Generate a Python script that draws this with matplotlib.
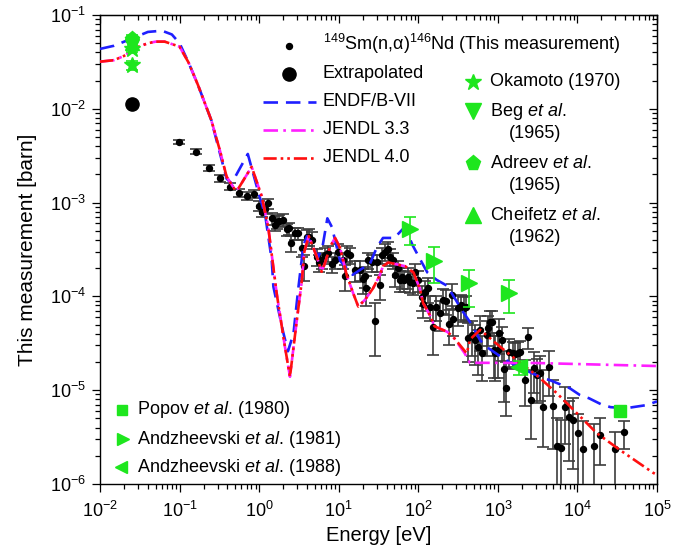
import numpy as np
import matplotlib
matplotlib.use("Agg")
import matplotlib.pyplot as plt
from matplotlib.ticker import LogLocator, NullFormatter

plt.rcParams['font.family'] = ['Liberation Sans', 'DejaVu Sans']
plt.rcParams['mathtext.fontset'] = 'custom'
plt.rcParams['mathtext.rm'] = 'Liberation Sans'
plt.rcParams['mathtext.it'] = 'Liberation Sans:italic'
plt.rcParams['mathtext.bf'] = 'Liberation Sans:bold'
plt.rcParams['axes.unicode_minus'] = False

# ---------------- data ----------------
# This measurement: energy [eV], cross section [barn], relative errors (low, high)
meas_E = [0.099, 0.16, 0.237, 0.325, 0.434, 0.558, 0.70, 0.87, 1.00, 1.10, 1.18, 1.31,
          1.45, 1.58, 1.70, 1.79, 1.98, 2.22, 2.37, 2.51, 2.82, 3.10, 3.43, 3.69, 3.96,
          4.27, 4.57, 5.28, 5.7, 6.1, 6.7, 7.4, 8.2, 9.0, 9.9, 11.4, 12.0, 12.6, 13.9,
          16.0, 18.5, 20.0, 21.4, 22.0, 23.5, 26.0, 28.6, 30.5, 33.0, 34.7, 38.2, 42.0,
          44.0, 48.6, 51.0, 56.0, 59.0, 62.0, 67.0, 75.0, 79.0, 86.6, 91.0, 100.0, 110.0,
          115.6, 121.0, 134.0, 140.0, 155.0, 165.0, 187.0, 206.0, 225.0, 245.0, 262.0,
          275.0, 318.0, 345.0, 375.0, 395.0, 425.0, 470.0, 516.0, 568.0, 597.0, 625.0,
          724.0, 760.0, 800.0, 836.0, 895.0, 920.0, 1014.0, 1042.0, 1115.0, 1193.0,
          1265.0, 1393.0, 1535.0, 1640.0, 1807.0, 1897.0, 2193.0, 2366.0, 2585.0, 2845.0,
          3075.0, 3390.0, 3725.0, 4435.0, 4980.0, 5600.0, 6230.0, 6990.0, 7910.0, 8880.0,
          10260.0, 11850.0, 16150.0, 19200.0, 29900.0, 38900.0]
meas_sigma = [4.43e-3, 3.49e-3, 2.36e-3, 1.82e-3, 1.48e-3, 1.28e-3, 1.17e-3, 1.24e-3, 9.3e-4,
              7.9e-4, 8.5e-4, 9.8e-4, 6.8e-4, 5.8e-4, 6.2e-4, 6.4e-4, 6.6e-4, 5.2e-4, 5.3e-4,
              3.7e-4, 4.7e-4, 4.7e-4, 3.3e-4, 2.1e-4, 4.3e-4, 4.35e-4, 4.0e-4, 2.65e-4,
              2.3e-4, 2.44e-4, 2.76e-4, 2.88e-4, 2.2e-4, 2.44e-4, 3.0e-4, 2.44e-4, 1.65e-4,
              2.88e-4, 2.76e-4, 1.9e-4, 1.93e-4, 1.52e-4, 1.65e-4, 1.22e-4, 2.44e-4, 2.3e-4,
              5.5e-5, 2.3e-4, 1.31e-4, 2.76e-4, 3.0e-4, 3.2e-4, 2.65e-4, 2.44e-4, 1.69e-4,
              2.0e-4, 1.5e-4, 1.6e-4, 1.5e-4, 1.6e-4, 1.44e-4, 1.38e-4, 1.83e-4, 1.5e-4,
              9.9e-5, 8.4e-5, 1.12e-4, 1.22e-4, 7.8e-5, 4.75e-5, 7.8e-5, 6.6e-5, 9.2e-5,
              9.0e-5, 5.1e-5, 1.04e-4, 5.8e-5, 7.5e-5, 8.0e-5, 7.6e-5, 7.8e-5, 3.6e-5,
              3.9e-5, 3.4e-5, 2.9e-5, 4.4e-5, 2.5e-5, 3.9e-5, 4.6e-5, 5.4e-5, 5.4e-5,
              2.7e-5, 2.5e-5, 2.7e-5, 4.1e-5, 3.4e-5, 1.67e-5, 1.06e-5, 2.58e-5, 2.5e-5,
              2.45e-5, 2.5e-5, 2.55e-5, 1.29e-5, 3.7e-5, 7.9e-6, 1.71e-5, 1.45e-5, 1.54e-5,
              6.6e-6, 1.75e-5, 6.8e-6, 2.54e-6, 2.4e-6, 6.7e-6, 5.2e-6, 4.8e-6, 3.47e-6,
              2.36e-6, 2.54e-6, 3.33e-6, 2.36e-6, 3.56e-6]
meas_rel_lo = [0.06, 0.06, 0.07, 0.08, 0.08, 0.10, 0.10, 0.10, 0.12, 0.12, 0.12, 0.12,
               0.15, 0.15, 0.15, 0.15, 0.15, 0.15, 0.15, 0.2, 0.15, 0.15, 0.2, 0.3, 0.2,
               0.2, 0.2, 0.2, 0.2, 0.2, 0.2, 0.2, 0.2, 0.2, 0.2, 0.2, 0.3, 0.2, 0.2,
               0.25, 0.25, 0.3, 0.25, 0.35, 0.2, 0.2, 0.58, 0.2, 0.3, 0.2, 0.2, 0.2,
               0.2, 0.2, 0.25, 0.2, 0.25, 0.25, 0.25, 0.25, 0.25, 0.25, 0.2, 0.25, 0.3,
               0.3, 0.3, 0.3, 0.3, 0.5, 0.3, 0.35, 0.3, 0.3, 0.4, 0.3, 0.35, 0.35, 0.3,
               0.3, 0.3, 0.45, 0.4, 0.45, 0.5, 0.4, 0.5, 0.4, 0.35, 0.3, 0.3, 0.5, 0.5,
               0.5, 0.4, 0.4, 0.55, 0.5, 0.35, 0.3, 0.3, 0.3, 0.3, 0.47, 0.25, 0.62, 0.45,
               0.5, 0.5, 0.62, 0.5, 0.65, 1.0, 1.0, 0.6, 0.66, 0.7, 0.8, 1.0, 1.0, 0.52,
               1.0, 0.33]
meas_rel_hi = [0.06, 0.06, 0.07, 0.08, 0.08, 0.10, 0.10, 0.10, 0.12, 0.12, 0.12, 0.12,
               0.15, 0.15, 0.15, 0.15, 0.15, 0.15, 0.15, 0.2, 0.15, 0.15, 0.2, 0.3, 0.2,
               0.2, 0.2, 0.2, 0.2, 0.2, 0.2, 0.2, 0.2, 0.2, 0.2, 0.2, 0.3, 0.2, 0.2,
               0.25, 0.25, 0.3, 0.25, 0.35, 0.2, 0.2, 0.56, 0.2, 0.3, 0.2, 0.2, 0.2,
               0.2, 0.2, 0.25, 0.2, 0.25, 0.25, 0.25, 0.25, 0.25, 0.25, 0.2, 0.25, 0.3,
               0.3, 0.3, 0.3, 0.3, 0.5, 0.3, 0.35, 0.3, 0.3, 0.4, 0.3, 0.35, 0.35, 0.3,
               0.3, 0.3, 0.45, 0.4, 0.45, 0.5, 0.4, 0.5, 0.4, 0.35, 0.3, 0.3, 0.5, 0.5,
               0.5, 0.4, 0.4, 0.55, 0.9, 0.35, 0.3, 0.3, 0.3, 0.3, 0.63, 0.25, 1.1, 0.5,
               0.5, 0.5, 1.5, 0.5, 0.9, 1.0, 1.0, 0.6, 0.46, 0.7, 0.6, 1.0, 0.7, 0.5,
               0.53, 0.33]

# Extrapolated thermal value
extrap_E = [0.0253]
extrap_sigma = [0.0112]

# Evaluated data
endf_E = [0.01, 0.015, 0.025, 0.04, 0.06, 0.08, 0.10, 0.13, 0.17, 0.25, 0.32, 0.39, 0.45,
          0.72, 1.0, 1.19, 1.44, 1.51, 2.0, 2.3, 2.7, 3.1, 3.6, 4.0, 4.8, 5.5, 6.3, 7.2,
          8.2, 10.4, 15.0, 20.0, 24.0, 30.0, 36.0, 50.0, 65.0, 75.0, 85.0, 105.0, 130.0,
          170.0, 230.0, 300.0, 350.0, 470.0, 600.0, 720.0, 1070.0, 1380.0, 2200.0, 3400.0,
          4500.0, 8000.0, 10700.0, 14000.0, 19700.0, 26000.0, 40000.0, 50000.0, 75000.0,
          100000.0]
endf_sigma = [0.0435, 0.047, 0.056, 0.066, 0.068, 0.062, 0.050, 0.031, 0.018, 7.6e-3,
              3.4e-3, 1.8e-3, 1.6e-3, 3.3e-3, 1.2e-3, 7.4e-4, 2.44e-4, 1.27e-4, 4.2e-5,
              2.6e-5, 4.0e-5, 1.2e-4, 3.5e-4, 4.4e-4, 3.3e-4, 2.6e-4, 3.5e-4, 6.8e-4, 5.5e-4,
              2.4e-4, 1.7e-4, 2.0e-4, 2.1e-4, 3.3e-4, 4.2e-4, 4.2e-4, 5.3e-4, 4.5e-4, 3.5e-4,
              2.5e-4, 1.8e-4, 1.5e-4, 1.3e-4, 9.0e-5, 7.2e-5, 5.0e-5, 3.4e-5, 2.9e-5, 2.3e-5,
              2.0e-5, 1.64e-5, 1.39e-5, 1.28e-5, 1.05e-5, 8.9e-6, 8.2e-6, 7.1e-6, 6.6e-6,
              6.4e-6, 6.6e-6, 6.95e-6, 7.6e-6]

jendl40_E = [0.01, 0.015, 0.02, 0.03, 0.04, 0.05, 0.065, 0.08, 0.10, 0.13, 0.17, 0.25, 0.32,
             0.39, 0.50, 0.55, 0.805, 1.08, 1.3, 1.66, 2.11, 2.44, 2.96, 3.43, 3.7, 4.2,
             5.3, 6.1, 6.7, 7.8, 9.0, 10.4, 12.6, 15.2, 17.6, 21.4, 27.0, 33.0, 36.0, 42.0,
             68.0, 87.0, 105.0, 115.0, 140.0, 160.0, 230.0, 275.0, 406.0, 450.0, 600.0,
             1070.0, 1720.0, 3240.0, 5500.0, 9800.0, 17400.0, 34300.0, 89000.0, 100000.0]
jendl40_sigma = [0.0318, 0.033, 0.0366, 0.0456, 0.050, 0.052, 0.052, 0.049, 0.046, 0.031,
                 0.018, 7.6e-3, 3.64e-3, 1.89e-3, 1.36e-3, 1.42e-3, 2.41e-3, 1.16e-3, 5.5e-4,
                 1.08e-4, 2.9e-5, 1.39e-5, 5.4e-5, 1.44e-4, 3.0e-4, 4.4e-4, 2.65e-4, 1.83e-4,
                 2.25e-4, 3.4e-4, 4.2e-4, 3.3e-4, 1.69e-4, 1.08e-4, 7.8e-5, 9.2e-5, 1.22e-4,
                 1.7e-4, 2.1e-4, 2.3e-4, 2.1e-4, 1.8e-4, 1.2e-4, 8.5e-5, 6.3e-5, 4.8e-5,
                 4.2e-5, 3.7e-5, 2.47e-5, 3.5e-5, 4.4e-5, 2.9e-5, 2.1e-5, 1.39e-5, 9.3e-6,
                 5.7e-6, 3.5e-6, 2.3e-6, 1.32e-6, 1.25e-6]

jendl33_E = [0.01, 0.015, 0.02, 0.03, 0.04, 0.05, 0.065, 0.08, 0.10, 0.13, 0.17, 0.25, 0.32,
             0.39, 0.50, 0.55, 0.805, 1.08, 1.3, 1.66, 2.11, 2.44, 2.96, 3.43, 3.7, 4.2,
             5.3, 6.1, 6.7, 7.8, 9.0, 10.4, 12.6, 15.2, 17.6, 21.4, 27.0, 33.0, 36.0, 42.0,
             68.0, 87.0, 105.0, 115.0, 140.0, 160.0, 230.0, 275.0, 380.0, 445.0, 3000.0,
             100000.0]
jendl33_sigma = [0.0318, 0.033, 0.0366, 0.0456, 0.050, 0.052, 0.052, 0.049, 0.046, 0.031,
                 0.018, 7.6e-3, 3.64e-3, 1.89e-3, 1.36e-3, 1.42e-3, 2.41e-3, 1.16e-3, 5.5e-4,
                 1.08e-4, 2.9e-5, 1.39e-5, 5.4e-5, 1.44e-4, 3.0e-4, 4.4e-4, 2.65e-4, 1.83e-4,
                 2.25e-4, 3.4e-4, 4.2e-4, 3.3e-4, 1.69e-4, 1.08e-4, 7.8e-5, 9.2e-5, 1.22e-4,
                 1.7e-4, 2.1e-4, 2.3e-4, 2.1e-4, 1.8e-4, 1.2e-4, 8.5e-5, 6.3e-5, 4.8e-5,
                 4.2e-5, 3.7e-5, 2.5e-5, 1.96e-5, 1.95e-5, 1.81e-5]

# Other measurements
okamoto_E = [0.0253, 0.0253]
okamoto_sigma = [0.043, 0.029]
okamoto_err = [0.003, 0.003]
beg_E = [0.0253]
beg_sigma = [0.047]
beg_err = [0.004]
adreev_E = [0.0253]
adreev_sigma = [0.056]
adreev_err = [0.005]
cheifetz_E = [0.0253]
cheifetz_sigma = [0.050]
cheifetz_err = [0.004]
popov_E = [34300.0]
popov_sigma = [6.0e-6]
andz81_E = [79.0, 158.0, 438.0, 1393.0]
andz81_sigma = [5.2e-4, 2.4e-4, 1.4e-4, 1.1e-4]
andz81_lo = [1.7e-4, 1.0e-4, 6.2e-5, 4.4e-5]
andz81_hi = [1.9e-4, 1.0e-4, 5.3e-5, 4.0e-5]
andz88_E = [1860.0]
andz88_sigma = [1.75e-5]
andz88_err = [3.0e-6]

# ---------------- figure ----------------
W, H = 683, 559
fig = plt.figure(figsize=(W / 100, H / 100), dpi=100)
L, R, T, B = 100, 657, 15, 484
ax = fig.add_axes([L / W, 1 - B / H, (R - L) / W, (B - T) / H])
ax.set_xscale('log')
ax.set_yscale('log')
ax.set_xlim(1e-2, 1e5)
ax.set_ylim(1e-6, 1e-1)

GREEN = '#1ee61e'
FS_TICK = 13
FS_LEG = 13
FS_XLAB = 14.5
FS_YLAB = 15

# evaluated curves
ax.plot(endf_E, endf_sigma, color='#1f1fff', lw=1.9, dashes=(5.5, 3), zorder=4)
ax.plot(jendl33_E, jendl33_sigma, color='#ff1fff', lw=1.9, dashes=(5.5, 2, 1, 2), zorder=4)
ax.plot(jendl40_E, jendl40_sigma, color='#ff0f0f', lw=1.9,
        dashes=(5, 1.5, 1, 1.5, 1, 1.5), zorder=5)

# measurement
E = np.array(meas_E)
S = np.array(meas_sigma)
lo = S * np.array(meas_rel_lo)
lo = np.where(lo >= S, S * 0.999999, lo)
hi = S * np.array(meas_rel_hi)
ax.errorbar(E, S, yerr=[lo, hi], fmt='o', ms=4.3, color='black', ecolor='#3c3c3c',
            elinewidth=1.2, capsize=4.5, capthick=1.2, zorder=3)
ax.plot(extrap_E, extrap_sigma, 'o', ms=9.5, color='black', zorder=6)

# other measurements
ekw = dict(ecolor=GREEN, elinewidth=1.2, capsize=4.5, capthick=1.2, zorder=6, ls='none')
ax.errorbar(cheifetz_E, cheifetz_sigma, yerr=cheifetz_err, marker='^', ms=10, color=GREEN, **ekw)
ax.errorbar(beg_E, beg_sigma, yerr=beg_err, marker='v', ms=10, color=GREEN, **ekw)
ax.errorbar(adreev_E, adreev_sigma, yerr=adreev_err, marker='p', ms=11, color=GREEN, **ekw)
ax.errorbar(okamoto_E, okamoto_sigma, yerr=okamoto_err, marker='*', ms=12, color=GREEN, **ekw)
ax.errorbar(andz81_E, andz81_sigma, yerr=[andz81_lo, andz81_hi], marker='>', ms=11,
            color=GREEN, **ekw)
ax.errorbar(andz88_E, andz88_sigma, yerr=andz88_err, marker='<', ms=11, color=GREEN, **ekw)
ax.plot(popov_E, popov_sigma, 's', ms=8.5, color=GREEN, zorder=6)

# axes styling
for sp in ax.spines.values():
    sp.set_linewidth(1.0)
ax.xaxis.set_major_locator(LogLocator(base=10, numticks=20))
ax.xaxis.set_minor_locator(LogLocator(base=10, subs=np.arange(2, 10), numticks=20))
ax.xaxis.set_minor_formatter(NullFormatter())
ax.yaxis.set_major_locator(LogLocator(base=10, numticks=20))
ax.yaxis.set_minor_locator(LogLocator(base=10, subs=np.arange(2, 10), numticks=20))
ax.yaxis.set_minor_formatter(NullFormatter())
ax.tick_params(which='major', direction='out', length=6, width=0.9, labelsize=FS_TICK, pad=4)
ax.tick_params(which='minor', direction='out', length=3.3, width=0.9)
ax.tick_params(axis='x', which='major', pad=6)

top = ax.secondary_xaxis('top')
top.set_xscale('log')
top.xaxis.set_major_locator(LogLocator(base=10, numticks=20))
top.xaxis.set_minor_locator(LogLocator(base=10, subs=np.arange(2, 10), numticks=20))
top.tick_params(which='major', direction='in', length=6, width=0.9, labeltop=False)
top.tick_params(which='minor', direction='in', length=3.3, width=0.9)
top.xaxis.set_minor_formatter(NullFormatter())
right = ax.secondary_yaxis('right')
right.set_yscale('log')
right.yaxis.set_major_locator(LogLocator(base=10, numticks=20))
right.yaxis.set_minor_locator(LogLocator(base=10, subs=np.arange(2, 10), numticks=20))
right.tick_params(which='major', direction='in', length=6, width=0.9, labelright=False)
right.tick_params(which='minor', direction='in', length=3.3, width=0.9)
right.yaxis.set_minor_formatter(NullFormatter())

ax.set_xlabel('Energy [eV]', fontsize=FS_XLAB, labelpad=4)
ax.set_ylabel('This measurement [barn]', fontsize=FS_YLAB, labelpad=9)


# ---------------- legends (manual) ----------------
def P(px, py):
    return ((px - L) / (R - L), (B - py) / (B - T))


def key_marker(px, py, **kw):
    x, y = P(px, py)
    ax.plot([x], [y], transform=ax.transAxes, clip_on=False, ls='none', **kw)


def key_line(px0, px1, py, **kw):
    x0, y0 = P(px0, py)
    x1, _ = P(px1, py)
    ax.plot([x0, x1], [y0, y0], transform=ax.transAxes, clip_on=False, **kw)


def key_text(px, py, s):
    x, y = P(px, py)
    ax.text(x, y, s, transform=ax.transAxes, fontsize=FS_LEG, ha='left', va='center')


key_marker(289, 46, marker='o', ms=4.3, color='black')
key_text(323, 44, r'$^{149}$Sm(n,α)$^{146}$Nd (This measurement)')
key_marker(289, 74, marker='o', ms=9.5, color='black')
key_text(323, 74, 'Extrapolated')
key_line(263, 316, 102, color='#1f1fff', lw=1.9, dashes=(5.5, 3))
key_text(323, 102, 'ENDF/B-VII')
key_line(263, 316, 130, color='#ff1fff', lw=1.9, dashes=(5.5, 2, 1, 2))
key_text(323, 130, 'JENDL 3.3')
key_line(263, 316, 158, color='#ff0f0f', lw=1.9, dashes=(5, 1.5, 1, 1.5, 1, 1.5))
key_text(323, 158, 'JENDL 4.0')

key_marker(473, 82, marker='*', ms=12, color=GREEN)
key_text(490, 82, 'Okamoto (1970)')
key_marker(473, 111, marker='v', ms=11, color=GREEN)
key_text(490, 111, r'Beg $\mathit{et\ al}$.')
key_text(509, 133, '(1965)')
key_marker(473, 163, marker='p', ms=11, color=GREEN)
key_text(490, 163, r'Adreev $\mathit{et\ al}$.')
key_text(509, 185, '(1965)')
key_marker(473, 215, marker='^', ms=11, color=GREEN)
key_text(490, 215, r'Cheifetz $\mathit{et\ al}$.')
key_text(509, 237, '(1962)')

key_marker(122, 410, marker='s', ms=7.5, color=GREEN)
key_text(137, 410, r'Popov $\mathit{et\ al}$. (1980)')
key_marker(123, 439, marker='>', ms=9, color=GREEN)
key_text(137, 439, r'Andzheevski $\mathit{et\ al}$. (1981)')
key_marker(121, 467, marker='<', ms=9, color=GREEN)
key_text(137, 467, r'Andzheevski $\mathit{et\ al}$. (1988)')

fig.savefig('out.png', dpi=100)
